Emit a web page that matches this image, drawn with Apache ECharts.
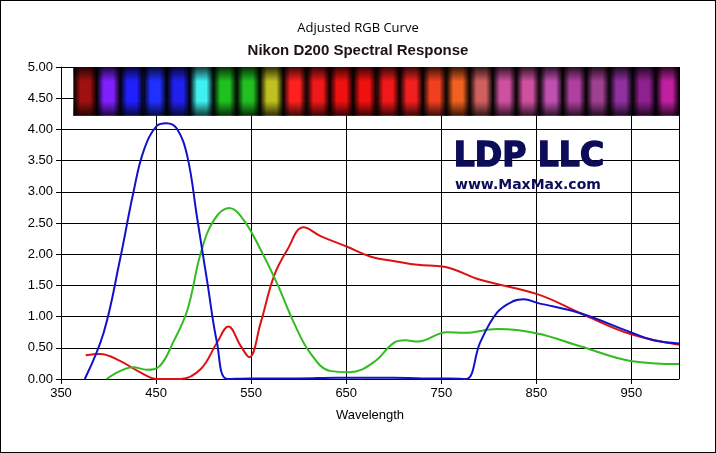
<!DOCTYPE html>
<html><head><meta charset="utf-8">
<script src="https://cdn.jsdelivr.net/npm/echarts@6/dist/echarts.min.js"></script>
<style>html,body{margin:0;padding:0;background:#fff}#c{width:716px;height:453px;box-sizing:border-box;border:1px solid #000}</style>
</head><body><div id="c"></div>
<script>
const blue = [[375,0],[395,0.75],[412,1.91],[426,2.98],[437,3.66],[451,4.06],[461,4.1],[472,4.01],[483,3.56],[493,2.6],[504,1.54],[514,0.59],[525,0],[550,0.01],[600,0.01],[640,0.02],[700,0.02],[730,0.01],[757,0.01],[776,0],[791,0.59],[809,1.07],[826,1.25],[837,1.28],[851,1.22],[897,1.05],[949,0.75],[973,0.62],[1000,0.57]];
const green = [[398,0],[426,0.19],[440,0.15],[454,0.21],[468,0.59],[483,1.11],[497,2.02],[511,2.55],[527,2.74],[542,2.55],[560,2.07],[577,1.54],[595,0.9],[612,0.42],[633,0.13],[654,0.11],[679,0.27],[700,0.58],[712,0.62],[725,0.6],[756,0.75],[774,0.74],[809,0.8],[851,0.73],[897,0.52],[949,0.29],[1000,0.24]];
const red = [[376,0.38],[391,0.4],[412,0.29],[433,0.11],[451,0],[476,0],[497,0.16],[514,0.58],[526,0.84],[539,0.53],[548,0.35],[560,0.9],[574,1.65],[588,2.07],[605,2.43],[623,2.29],[651,2.12],[676,1.96],[704,1.88],[725,1.83],[753,1.8],[791,1.59],[851,1.36],[897,1.05],[949,0.72],[1000,0.55]];
const spectrum = ['#a01010','#8020ff','#2020ff','#2030ff','#2020f0','#40f0f0','#20c020','#20c020','#c0c020','#ff2020','#f01818','#f01010','#f01010','#f01818','#f02020','#f04020','#f06020','#d06060','#d050a0','#d050a0','#c050b0','#b040a0','#a04090','#9030a0','#902090','#c020a0'];
const yTicks = ['0.00','0.50','1.00','1.50','2.00','2.50','3.00','3.50','4.00','4.50','5.00'];
const titleMain = 'Adjusted RGB Curve', titleSub = 'Nikon D200 Spectral Response';

const x0 = 363, x1 = 1000, bw = (x1 - x0) / spectrum.length;
const stripData = spectrum.map((c, i) => [x0 + i * bw, x0 + (i + 1) * bw, i]);

const chart = echarts.init(document.getElementById('c'));
chart.setOption({
  animation: false,
  title: [
    {text: titleMain, left: 'center', top: 16, textStyle: {fontSize: 13, fontWeight: 'normal', color: '#000', fontFamily: 'Open Sans'}},
    {text: titleSub, left: 'center', top: 37, textStyle: {fontSize: 15, fontWeight: 'bold', color: '#201018', fontFamily: 'Liberation Sans Narrow, Liberation Sans'}}
  ],
  grid: {left: 60, right: 36, top: 66, bottom: 73},
  xAxis: {type: 'value', min: 350, max: 1000, interval: 100,
    name: 'Wavelength', nameLocation: 'middle', nameGap: 30, nameTextStyle: {fontSize: 13, color: '#000'},
    axisLine: {lineStyle: {color: '#000'}}, axisTick: {show: true, lineStyle: {color: '#000'}},
    axisLabel: {fontSize: 13, color: '#000', showMaxLabel: false},
    splitLine: {lineStyle: {color: '#000', width: 1}}},
  yAxis: {type: 'value', min: 0, max: 5, interval: 0.5,
    axisLine: {show: true, lineStyle: {color: '#000'}}, axisTick: {show: true, lineStyle: {color: '#000'}},
    axisLabel: {fontSize: 13, color: '#000', formatter: v => yTicks[Math.round(v * 2)]},
    splitLine: {lineStyle: {color: '#000', width: 1}}},
  graphic: [
    {type: 'text', left: 452, top: 139, z: 100, style: {text: 'LDP LLC', font: 'bold 33px DejaVu Sans', fill: '#0c0c5a', stroke: '#0c0c5a', lineWidth: 1.5}},
    {type: 'text', left: 454, top: 177, z: 100, style: {text: 'www.MaxMax.com', font: 'bold 14px DejaVu Sans', fill: '#0c0c5a'}}
  ],
  series: [
    {type: 'custom', data: stripData, z: 5, silent: true,
      renderItem: (params, api) => {
        const a = api.coord([api.value(0), 5]);
        const b = api.coord([api.value(1), 4.22]);
        const c = spectrum[api.value(2)];
        const shape = {x: a[0], y: a[1], width: b[0] - a[0] + 0.5, height: b[1] - a[1]};
        return {type: 'group', children: [
          {type: 'rect', shape, style: {fill: new echarts.graphic.LinearGradient(0, 0, 1, 0, [{offset: 0, color: '#000'}, {offset: 0.3, color: c}, {offset: 0.7, color: c}, {offset: 1, color: '#000'}])}},
          {type: 'rect', shape, style: {fill: new echarts.graphic.LinearGradient(0, 0, 0, 1, [{offset: 0, color: 'rgba(0,0,0,0.75)'}, {offset: 0.3, color: 'rgba(0,0,0,0)'}, {offset: 0.7, color: 'rgba(0,0,0,0)'}, {offset: 1, color: 'rgba(0,0,0,0.75)'}])}}
        ]};
      }},
    {type: 'line', data: red, smooth: 0.4, showSymbol: false, lineStyle: {color: '#dd1111', width: 2}, z: 3},
    {type: 'line', data: green, smooth: 0.4, showSymbol: false, lineStyle: {color: '#33bb22', width: 2}, z: 3},
    {type: 'line', data: blue, smooth: 0.4, showSymbol: false, lineStyle: {color: '#1111cc', width: 2}, z: 4}
  ]
});
</script></body></html>
